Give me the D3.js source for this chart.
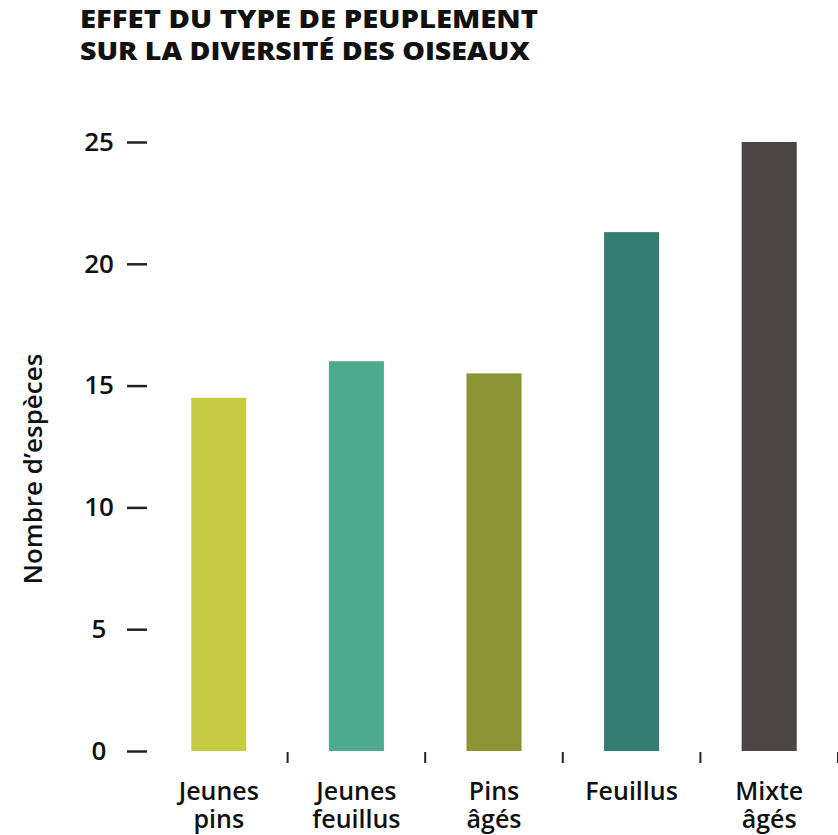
<!DOCTYPE html>
<html>
<head>
<meta charset="utf-8">
<script src="https://cdn.jsdelivr.net/npm/d3@7"></script>
<style>
  body { margin: 0; background: #fff; }
  svg { display: block; font-family: "Open Sans", Lato, sans-serif; }
</style>
</head>
<body>
<svg width="838" height="835"></svg>
<script>
// data
var categories = ["Jeunes pins", "Jeunes feuillus", "Pins âgés", "Feuillus", "Mixte âgés"];
var labelLines = [["Jeunes", "pins"], ["Jeunes", "feuillus"], ["Pins", "âgés"], ["Feuillus"], ["Mixte", "âgés"]];
var values = [14.5, 16, 15.5, 21.3, 25];
var colors = ["#c5cc44", "#4fab8f", "#8b9335", "#357d72", "#4b4645"];
var yTicks = [0, 5, 10, 15, 20, 25];
var titleLines = ["EFFET DU TYPE DE PEUPLEMENT", "SUR LA DIVERSITÉ DES OISEAUX"];
var titleWidths = [458, 450];

var svg = d3.select("svg");

var x = d3.scaleBand().domain(categories).range([150, 838]).paddingInner(0.6).paddingOuter(0.3);
var y = d3.scaleLinear().domain([0, 25]).range([751, 142]);

// title
svg.append("g").selectAll("text")
  .data(titleLines)
  .join("text")
  .attr("x", 80)
  .attr("y", function (d, i) { return 28 + i * 32; })
  .attr("font-size", 25)
  .attr("font-weight", 800)
  .attr("fill", "#111")
  .attr("textLength", function (d, i) { return titleWidths[i]; })
  .attr("lengthAdjust", "spacingAndGlyphs")
  .text(function (d) { return d; });

// y axis
var yAxis = d3.axisLeft(y).tickValues(yTicks).tickSize(20).tickPadding(12);
var gy = svg.append("g")
  .attr("class", "y_axis")
  .attr("transform", "translate(147,0)")
  .call(yAxis);
gy.select(".domain").remove();
gy.selectAll(".tick line").attr("stroke", "#222").attr("stroke-width", 2.5);
gy.selectAll(".tick text")
  .attr("x", -48)
  .attr("text-anchor", "middle")
  .attr("font-size", 26)
  .attr("font-weight", 600)
  .attr("fill", "#111")
  .attr("font-family", "'Open Sans', sans-serif");

svg.append("text")
  .attr("transform", "translate(42,469) rotate(-90)")
  .attr("text-anchor", "middle")
  .attr("font-size", 26)
  .attr("font-weight", 600)
  .attr("fill", "#111")
  .text("Nombre d\u2019espèces");

// bars
svg.append("g").selectAll("rect")
  .data(values)
  .join("rect")
  .attr("x", function (d, i) { return x(categories[i]); })
  .attr("width", x.bandwidth())
  .attr("y", function (d) { return y(d); })
  .attr("height", function (d) { return y(0) - y(d); })
  .attr("fill", function (d, i) { return colors[i]; });

// x axis ticks between bars
var step = x.step();
svg.append("g").selectAll("line")
  .data(categories)
  .join("line")
  .attr("x1", function (d) { return x(d) + x.bandwidth() / 2 + step / 2; })
  .attr("x2", function (d) { return x(d) + x.bandwidth() / 2 + step / 2; })
  .attr("y1", 752)
  .attr("y2", 763)
  .attr("stroke", "#222")
  .attr("stroke-width", 2);

// x labels
var xl = svg.append("g").selectAll("text")
  .data(categories)
  .join("text")
  .attr("x", function (d) { return x(d) + x.bandwidth() / 2; })
  .attr("y", 800)
  .attr("text-anchor", "middle")
  .attr("font-size", 25)
  .attr("font-weight", 600)
  .attr("fill", "#111");
xl.selectAll("tspan")
  .data(function (d, i) { return labelLines[i]; })
  .join("tspan")
  .attr("x", function () { return d3.select(this.parentNode).attr("x"); })
  .attr("dy", function (d, i) { return i === 0 ? 0 : 28; })
  .text(function (d) { return d; });
</script>
</body>
</html>
